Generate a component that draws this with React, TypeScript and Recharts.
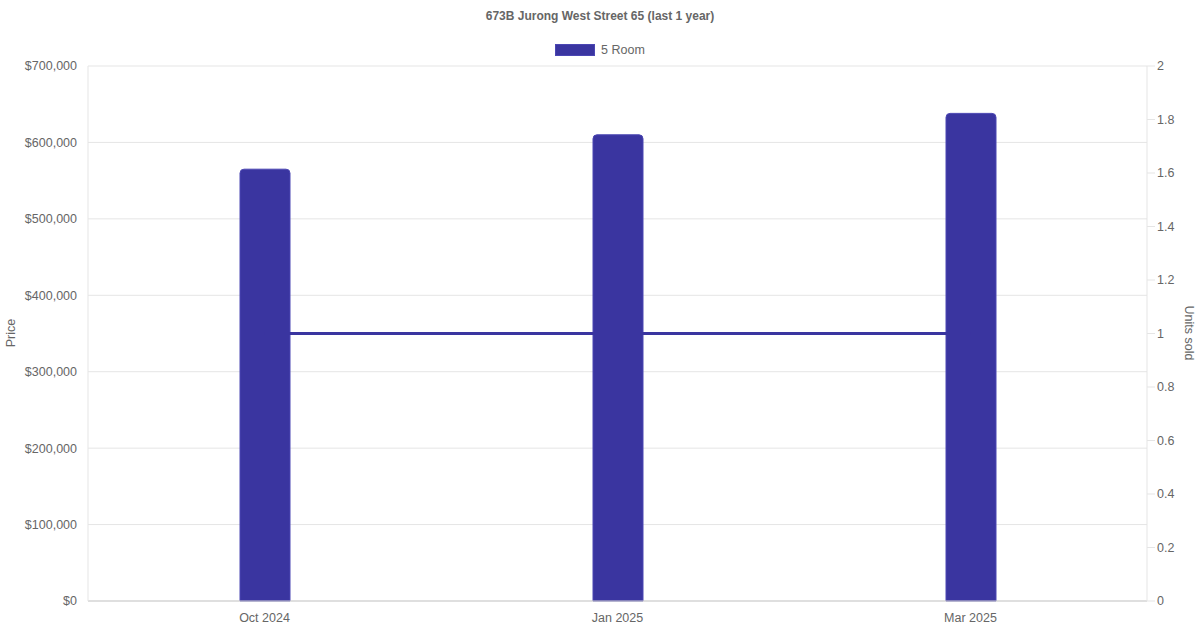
import { ComposedChart, Bar, Line, XAxis, YAxis, CartesianGrid } from "recharts"

const months = ["Oct 2024", "Jan 2025", "Mar 2025"]
const prices = [565000, 610000, 638000]
const unitsSold = [1, 1, 1]
const priceTicks = [0, 100000, 200000, 300000, 400000, 500000, 600000, 700000]
const unitTicks = [0, 0.2, 0.4, 0.6, 0.8, 1, 1.2, 1.4, 1.6, 1.8, 2]

const data = months.map((month, i) => ({ month, price: prices[i], units: unitsSold[i] }))

const purple = "#3a35a0"
const font = '"Liberation Sans", Arial, sans-serif'

export default function App() {
  return (
    <div style={{ position: "relative", width: 1200, height: 630, fontFamily: font, color: "#666" }}>
      <style>{`body{margin:0}`}</style>
      <div style={{ position: "absolute", top: 9, left: 0, width: 1200, textAlign: "center", fontSize: 12, fontWeight: "bold" }}>
        673B Jurong West Street 65 (last 1 year)
      </div>
      <div style={{ position: "absolute", top: 43, left: 0, width: 1200, display: "flex", justifyContent: "center", alignItems: "center", fontSize: 12.5 }}>
        <span style={{ display: "inline-block", width: 38, height: 10, background: purple, border: "1px solid #4b46b3", marginRight: 6 }} />
        <span>5 Room</span>
      </div>
      <div style={{ position: "absolute", left: 11, top: 333, fontSize: 12.5, transform: "translate(-50%, -50%) rotate(-90deg)" }}>Price</div>
      <div style={{ position: "absolute", left: 1189, top: 333, fontSize: 12.5, whiteSpace: "nowrap", transform: "translate(-50%, -50%) rotate(90deg)" }}>Units sold</div>
      <ComposedChart width={1200} height={630} data={data} margin={{ top: 66, right: 0, bottom: 0, left: 0 }}>
        <CartesianGrid yAxisId="price" vertical={false} stroke="#e5e5e5" />
        <XAxis
          dataKey="month"
          height={29}
          tickLine={false}
          tickSize={0}
          tickMargin={12}
          axisLine={{ stroke: "#cccccc" }}
          tick={{ fill: "#666", fontSize: 12.5, fontFamily: font }}
        />
        <YAxis
          yAxisId="price"
          orientation="left"
          width={88}
          domain={[0, 700000]}
          ticks={priceTicks}
          tickLine={false}
          tickSize={0}
          tickMargin={11}
          axisLine={{ stroke: "#e5e5e5" }}
          tick={{ fill: "#666", fontSize: 12.5, fontFamily: font }}
          tickFormatter={(v) => "$" + Number(v).toLocaleString("en-US")}
        />
        <YAxis
          yAxisId="units"
          orientation="right"
          width={53}
          domain={[0, 2]}
          ticks={unitTicks}
          tickSize={8}
          tickMargin={2}
          tickLine={{ stroke: "#e5e5e5" }}
          axisLine={{ stroke: "#e5e5e5" }}
          tick={{ fill: "#666", fontSize: 12.5, fontFamily: font, textAnchor: "start" }}
        />
        <Line
          yAxisId="units"
          dataKey="units"
          type="linear"
          stroke={purple}
          strokeWidth={3}
          dot={false}
          activeDot={false}
          isAnimationActive={false}
        />
        <Bar
          yAxisId="price"
          dataKey="price"
          barSize={50}
          fill={purple}
          stroke="#4b46b3"
          strokeWidth={1}
          radius={[4, 4, 0, 0]}
          isAnimationActive={false}
        />
      </ComposedChart>
    </div>
  )
}
